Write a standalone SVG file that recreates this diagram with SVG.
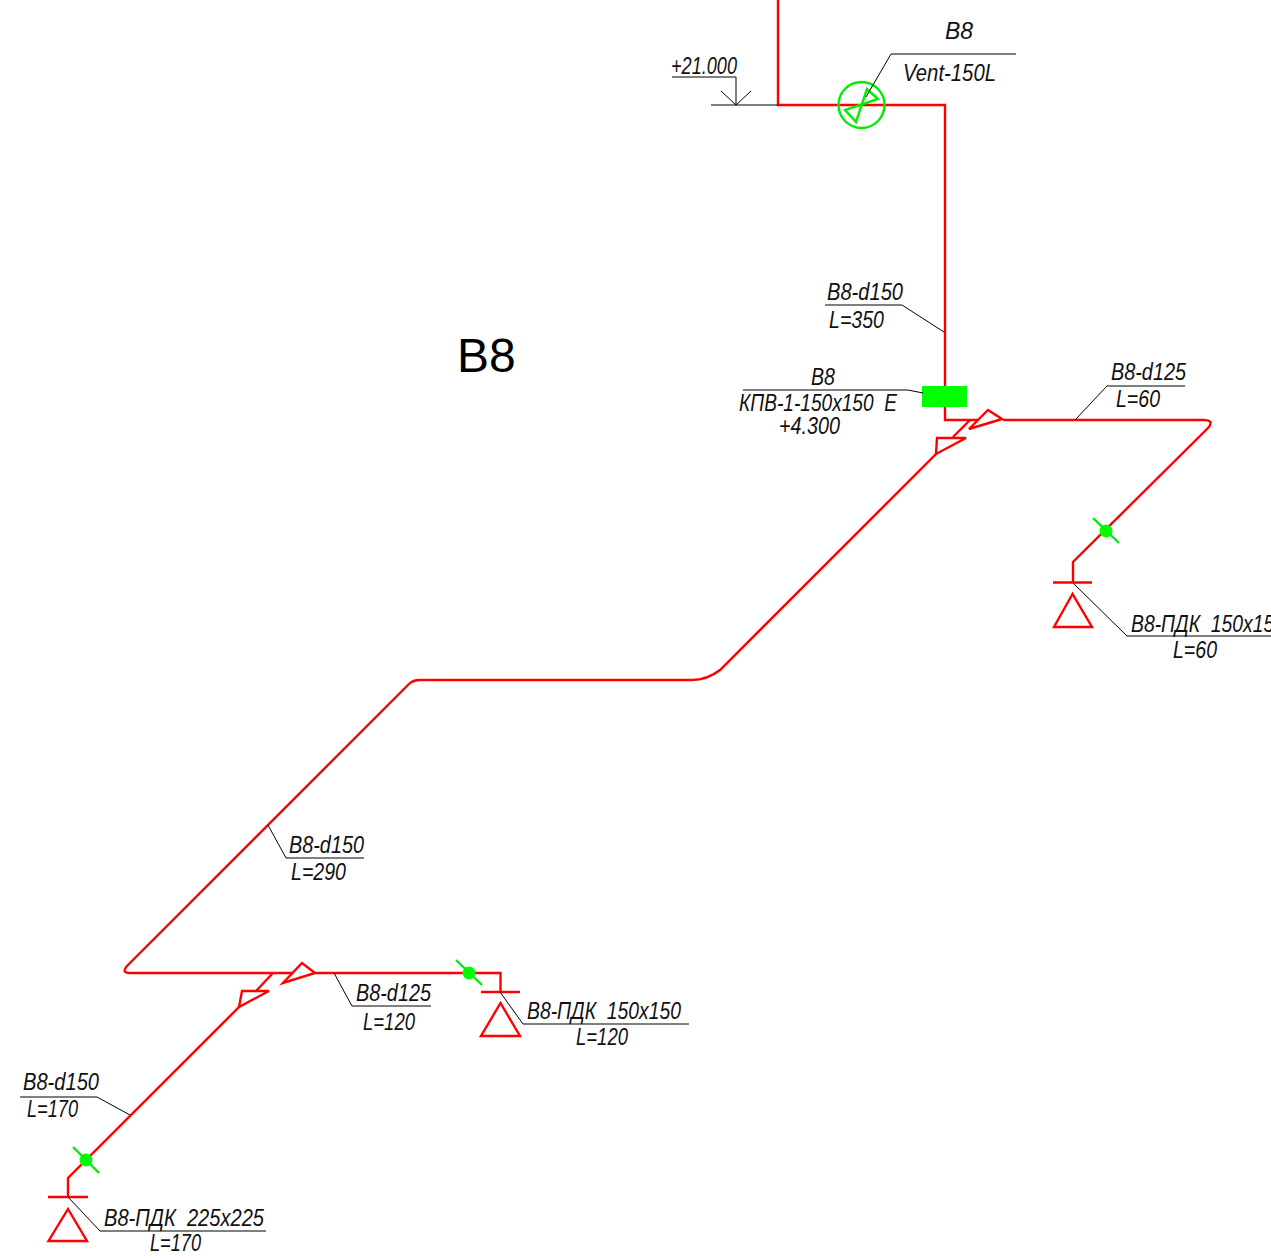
<svg xmlns="http://www.w3.org/2000/svg" width="1271" height="1258" viewBox="0 0 1271 1258">
<style>
.p{fill:none;stroke:#ff0000;stroke-width:2.4}
.g{fill:none;stroke:#00ee00;stroke-width:2.4}
.l{fill:none;stroke:#000;stroke-width:1}
.d{fill:#00ff00;stroke:none}
text{font-family:"Liberation Sans",Arial,sans-serif;font-style:italic;font-size:23px;fill:#111;font-weight:normal;white-space:pre}
text.big{font-style:normal;font-size:48px;fill:#000}
</style>
<rect width="1271" height="1258" fill="#fff"/>
<g id="connectors">
<path class="p" d="M778 0V105H945V420H978M1003 420H1203Q1215 420 1208 428L1073 562V582"/>
<path class="p" d="M970 420L953 437M936 454L720 670Q707 680 692 680H420Q413 680 409 684L127 966Q121 973 130 973H293M315 973H500.500V992M273 973L256 991M239 1007L68 1178V1197"/>
</g>
<g id="title"><text class="big" x="457" y="372">B8</text></g>
<g id="elevation-top">
<path class="l" d="M711 105H778M672 77H736V105M721 91L736 105L751 91"/>
<text x="671" y="74" textLength="66" lengthAdjust="spacingAndGlyphs">+21.000</text>
</g>
<g id="vent-fan">
<circle class="g" cx="861.500" cy="105" r="23"/>
<path class="g" d="M867 89L878 99L845 110L856 122Z"/>
<path class="l" d="M866 97L891 54H1016"/>
<text x="945" y="39" textLength="28" lengthAdjust="spacingAndGlyphs">B8</text>
<text x="903" y="81" textLength="93" lengthAdjust="spacingAndGlyphs">Vent-150L</text>
</g>
<g id="label-d150-350">
<path class="l" d="M825 305H902L944 332"/>
<text x="827" y="300" textLength="76" lengthAdjust="spacingAndGlyphs">B8-d150</text>
<text x="829" y="328" textLength="55" lengthAdjust="spacingAndGlyphs">L=350</text>
</g>
<g id="damper-kpv">
<rect class="d" x="922" y="386" width="45" height="21"/>
<path class="l" d="M743 390H908L923 393"/>
<text x="811" y="385" textLength="24" lengthAdjust="spacingAndGlyphs">B8</text>
<text x="739" y="411" textLength="158" lengthAdjust="spacingAndGlyphs">КПВ-1-150x150  Е</text>
<text x="779" y="434" textLength="61" lengthAdjust="spacingAndGlyphs">+4.300</text>
</g>
<g id="tee-top">
<path class="p" d="M1002 419L988 410L969 429Z"/>
<path class="p" d="M937 438H966L936 454Z"/>
</g>
<g id="label-d125-60">
<path class="l" d="M1075 420L1107 386H1185"/>
<text x="1111" y="380" textLength="75" lengthAdjust="spacingAndGlyphs">B8-d125</text>
<text x="1116" y="407" textLength="44" lengthAdjust="spacingAndGlyphs">L=60</text>
</g>
<g id="grille-right">
<path class="p" d="M1053 582.500H1092M1072.500 594L1054 627H1092Z"/>
<circle class="d" cx="1106" cy="531" r="6.500"/>
<path class="g" d="M1093 518L1119 543"/>
<path class="l" d="M1073 583L1127 636H1271"/>
<text x="1131" y="632" textLength="154" lengthAdjust="spacingAndGlyphs">B8-ПДК  150x150</text>
<text x="1173" y="658" textLength="44" lengthAdjust="spacingAndGlyphs">L=60</text>
</g>
<g id="label-d150-290">
<path class="l" d="M268 825L286 858H364"/>
<text x="289" y="853" textLength="75" lengthAdjust="spacingAndGlyphs">B8-d150</text>
<text x="291" y="880" textLength="55" lengthAdjust="spacingAndGlyphs">L=290</text>
</g>
<g id="tee-bottom">
<path class="p" d="M315 973L302 963L283 983Z"/>
<path class="p" d="M242 991H269L239 1007Z"/>
</g>
<g id="label-d125-120">
<path class="l" d="M334 973L352 1006H431"/>
<text x="356" y="1001" textLength="75" lengthAdjust="spacingAndGlyphs">B8-d125</text>
<text x="363" y="1030" textLength="52" lengthAdjust="spacingAndGlyphs">L=120</text>
</g>
<g id="grille-middle">
<path class="p" d="M481 992H520M500.500 1003L481 1036H520Z"/>
<circle class="d" cx="469" cy="973" r="6.500"/>
<path class="g" d="M456 960L482 985"/>
<path class="l" d="M500 992L523 1024H689"/>
<text x="527" y="1019" textLength="154" lengthAdjust="spacingAndGlyphs">B8-ПДК  150x150</text>
<text x="576" y="1045" textLength="52" lengthAdjust="spacingAndGlyphs">L=120</text>
</g>
<g id="label-d150-170">
<path class="l" d="M20 1097H97L130 1115"/>
<text x="23" y="1090" textLength="76" lengthAdjust="spacingAndGlyphs">B8-d150</text>
<text x="27" y="1117" textLength="51" lengthAdjust="spacingAndGlyphs">L=170</text>
</g>
<g id="grille-left">
<path class="p" d="M48 1197H88M68 1209L48.500 1241H87Z"/>
<circle class="d" cx="86" cy="1160" r="6.500"/>
<path class="g" d="M73 1147L99 1173"/>
<path class="l" d="M68 1197L100 1231H266"/>
<text x="104" y="1226" textLength="160" lengthAdjust="spacingAndGlyphs">B8-ПДК  225x225</text>
<text x="150" y="1251" textLength="51" lengthAdjust="spacingAndGlyphs">L=170</text>
</g>
</svg>
